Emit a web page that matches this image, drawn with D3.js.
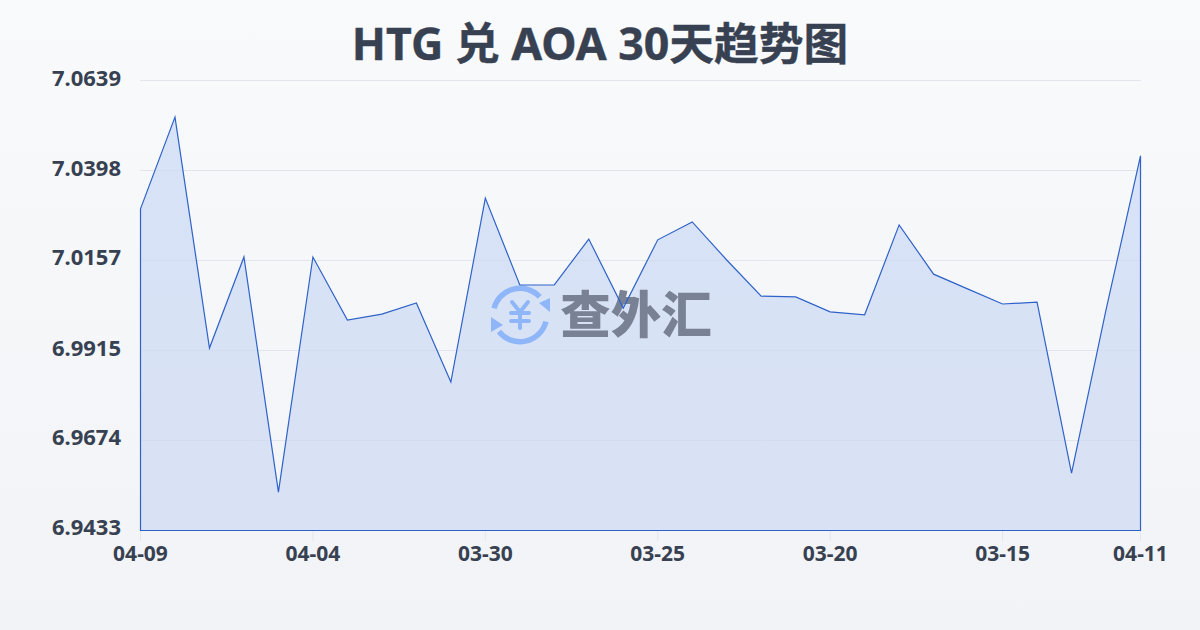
<!DOCTYPE html>
<html><head><meta charset="utf-8">
<style>html,body{margin:0;padding:0;width:1200px;height:630px;overflow:hidden}svg{display:block}</style>
<script src="https://cdn.jsdelivr.net/npm/d3@7"></script></head><body><svg id="c" width="1200" height="630"></svg>
<script>
const titleText = "HTG 兑 AOA 30天趋势图";
const yTicks = [6.9433, 6.9674, 6.9915, 7.0157, 7.0398, 7.0639];
const xLabels = ["04-09","04-04","03-30","03-25","03-20","03-15","04-11"];
const xTickIndex = [0,5,10,15,20,25,29];
const values = [7.0295,7.0541,6.9922,7.0166,6.9536,7.0166,6.9997,7.0013,7.0043,6.9831,7.0324,7.0091,7.0091,7.0214,7.0029,7.0212,7.0260,7.0158,7.0061,7.0059,7.0019,7.0011,7.0252,7.0120,7.0080,7.0040,7.0045,6.9587,7.0024,7.0437];

const svg = d3.select("#c");
const defs = svg.append("defs");
const bg = defs.append("linearGradient").attr("id","bg").attr("x1",0).attr("y1",0).attr("x2",0).attr("y2",1);
bg.append("stop").attr("offset",0).attr("stop-color","#f8fafc");
bg.append("stop").attr("offset",1).attr("stop-color","#f1f3f6");
const fg = defs.append("linearGradient").attr("id","fg").attr("x1",0).attr("y1",0).attr("x2",0).attr("y2",1);
fg.append("stop").attr("offset",0).attr("stop-color","#d7e3f7");
fg.append("stop").attr("offset",1).attr("stop-color","#d9e1f4");
svg.append("rect").attr("width",1200).attr("height",630).attr("fill","url(#bg)");

const x = d3.scaleLinear().domain([0,values.length-1]).range([140.5,1140.5]);
const y = d3.scaleLinear().domain([yTicks[0],yTicks[yTicks.length-1]]).range([530.5,80.5]);
const labelY = d3.scaleLinear().domain([yTicks[0],yTicks[yTicks.length-1]]).range([535,86]);
const gy = d => Math.floor(y(d)) + .5;

svg.append("g").selectAll("line").data(yTicks).join("line")
  .attr("x1",140).attr("x2",1141).attr("y1",gy).attr("y2",gy)
  .attr("stroke","#e2e6ec").attr("stroke-width",1);
svg.append("g").selectAll("line").data(xTickIndex).join("line")
  .attr("x1",d=>x(d)).attr("x2",d=>x(d)).attr("y1",530).attr("y2",541)
  .attr("stroke","#e2e6ec");

const area = d3.area().x((d,i)=>x(i)).y0(y(yTicks[0])).y1(d=>y(d));
svg.append("path").datum(values).attr("d",area).attr("fill","url(#fg)");

defs.append("clipPath").attr("id","areaClip").append("path").datum(values).attr("d",area);
svg.append("g").selectAll("line").data(yTicks.slice(1)).join("line")
  .attr("x1",141).attr("x2",1140).attr("y1",gy).attr("y2",gy)
  .attr("stroke","#cfd8ea").attr("stroke-width",1).attr("stroke-opacity",.55)
  .attr("clip-path","url(#areaClip)");

svg.append("text").attr("x",600).attr("y",60).attr("text-anchor","middle")
  .attr("font-family","'Noto Sans','Noto Sans CJK SC',sans-serif").attr("font-weight",700).attr("font-size",44.7)
  .attr("fill","#374151").attr("stroke","#374151").attr("stroke-width",.4).text(titleText);

svg.append("g").selectAll("text").data(yTicks).join("text")
  .attr("x",121).attr("y",d=>labelY(d)).attr("text-anchor","end")
  .attr("font-family","'Noto Sans',sans-serif").attr("font-weight",700).attr("font-size",22)
  .attr("fill","#374151").text(d=>d.toFixed(4));

svg.append("g").selectAll("text").data(xTickIndex).join("text")
  .attr("x",d=>x(d)).attr("y",560.5).attr("text-anchor","middle")
  .attr("font-family","'Noto Sans',sans-serif").attr("font-weight",700).attr("font-size",21)
  .attr("fill","#374151").text((d,i)=>xLabels[i]);

// watermark
const logo = svg.append("g").attr("transform","translate(520,315)");
const blue = "#8fb6f8";
const arc = d3.arc().innerRadius(24).outerRadius(29.5);
logo.append("path").attr("d",arc({startAngle:-1.32,endAngle:0.83})).attr("fill",blue);
logo.append("path").attr("d",arc({startAngle:1.82,endAngle:4.05})).attr("fill",blue);
logo.append("path").attr("d","M30 -17 L30 -3 L19 -12 Z").attr("fill",blue);
logo.append("path").attr("d","M-29 2 L-29 17 L-17 10 Z").attr("fill",blue);
logo.append("path").attr("d","M-8 -13 L0 -3 L8 -13 M-9 -2 H9 M-9 6 H9 M0 -3 V13")
  .attr("fill","none").attr("stroke",blue).attr("stroke-width",4).attr("stroke-linecap","round").attr("stroke-linejoin","round");
svg.append("text").attr("x",636).attr("y",333).attr("text-anchor","middle")
  .attr("font-family","'Noto Sans CJK SC',sans-serif").attr("font-weight",900).attr("font-size",50.5)
  .attr("fill","#798195").text("查外汇");

svg.append("path").datum(values).attr("d",area).attr("fill","none").attr("stroke","#2f62c9").attr("stroke-width",1.2);
</script></body></html>
